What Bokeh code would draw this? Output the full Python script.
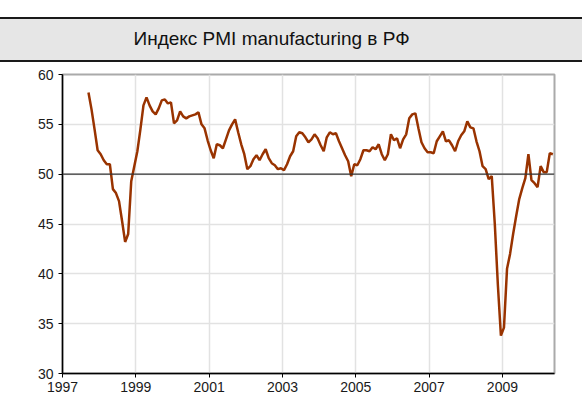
from bokeh.plotting import figure
from bokeh.models import Range1d, Span, FixedTicker, ColumnDataSource
from bokeh.embed import file_html
from bokeh.resources import INLINE

title_text = "Индекс PMI manufacturing в РФ"

# Monthly PMI values (first year starts in September, last year ends in May)
pmi_1997 = [58.2, 56.5, 54.5, 52.4]
pmi_1998 = [52.0, 51.4, 51.0, 51.0, 48.5, 48.1, 47.3, 45.3, 43.2, 44.0, 49.3, 50.8]
pmi_1999 = [52.3, 54.5, 56.9, 57.7, 56.9, 56.3, 56.0, 56.6, 57.4, 57.5, 57.1, 57.2]
pmi_2000 = [55.1, 55.4, 56.3, 55.8, 55.6, 55.8, 55.9, 56.0, 56.2, 55.0, 54.6, 53.4]
pmi_2001 = [52.4, 51.6, 53.0, 52.9, 52.6, 53.5, 54.4, 55.0, 55.5, 54.2, 53.0, 52.0]
pmi_2002 = [50.5, 50.8, 51.5, 51.9, 51.4, 52.0, 52.5, 51.6, 51.1, 50.9, 50.5, 50.6]
pmi_2003 = [50.4, 51.0, 51.8, 52.3, 53.8, 54.2, 54.1, 53.7, 53.2, 53.5, 54.0, 53.6]
pmi_2004 = [52.9, 52.3, 53.7, 54.2, 54.0, 54.1, 53.3, 52.6, 51.9, 51.3, 49.8, 51.0]
pmi_2005 = [50.9, 51.5, 52.4, 52.4, 52.3, 52.7, 52.5, 53.0, 52.0, 51.4, 52.0, 54.0]
pmi_2006 = [53.4, 53.6, 52.6, 53.5, 54.0, 55.6, 56.0, 56.1, 54.6, 53.2, 52.6, 52.2]
pmi_2007 = [52.2, 52.1, 53.3, 53.8, 54.3, 53.3, 53.4, 52.9, 52.3, 53.3, 53.9, 54.3]
pmi_2008 = [55.3, 54.7, 54.6, 53.3, 52.3, 50.8, 50.5, 49.5, 49.8, 45.0, 38.9, 33.8]
pmi_2009 = [34.6, 40.5, 42.0, 44.0, 45.8, 47.5, 48.6, 49.6, 52.0, 49.4, 49.1, 48.7]
pmi_2010 = [50.8, 50.2, 50.2, 52.1, 52.0]

series = [
    (1997, 9, pmi_1997), (1998, 1, pmi_1998), (1999, 1, pmi_1999), (2000, 1, pmi_2000),
    (2001, 1, pmi_2001), (2002, 1, pmi_2002), (2003, 1, pmi_2003), (2004, 1, pmi_2004),
    (2005, 1, pmi_2005), (2006, 1, pmi_2006), (2007, 1, pmi_2007), (2008, 1, pmi_2008),
    (2009, 1, pmi_2009), (2010, 1, pmi_2010),
]

x_ticks = [1997, 1999, 2001, 2003, 2005, 2007, 2009]
x_tick_labels = ["1997", "1999", "2001", "2003", "2005", "2007", "2009"]
y_ticks = [30, 35, 40, 45, 50, 55, 60]
y_tick_labels = ["30", "35", "40", "45", "50", "55", "60"]
reference_level = 50

xs, ys = [], []
for year, first_month, vals in series:
    for k, v in enumerate(vals):
        xs.append(year + (first_month - 1 + k + 0.5) / 12.0)
        ys.append(v)
src = ColumnDataSource(dict(x=xs, y=ys))

FONT = "Liberation Sans"

p = figure(frame_width=492, frame_height=299,
           x_range=Range1d(1997, 2010.42), y_range=Range1d(30, 60),
           toolbar_location=None, output_backend="svg",
           min_border_left=62, min_border_right=28, min_border_top=74, min_border_bottom=35)
p.background_fill_color = "white"
p.border_fill_color = "white"
p.outline_line_color = "#aaaaaa"
p.outline_line_width = 2

# Title band drawn as the title's padded background box
t = p.title
t.text = title_text
t.align = "left"
t.offset = -65
t.standoff = 27
t.text_font = FONT
t.text_font_style = "normal"
t.text_font_size = "19px"
t.text_color = "#111111"
t.background_fill_color = "#e6e6e6"
t.border_line_color = "#1a1a1a"
t.border_line_width = 2
t.padding = dict(left=136, right=175, top=10, bottom=12)

p.xaxis.ticker = FixedTicker(ticks=x_ticks)
p.xaxis.major_label_overrides = dict(zip(x_ticks, x_tick_labels))
p.yaxis.ticker = FixedTicker(ticks=y_ticks)
p.yaxis.major_label_overrides = dict(zip(y_ticks, y_tick_labels))
for ax in (p.xaxis, p.yaxis):
    ax.axis_line_color = "black"
    ax.axis_line_width = 1.5
    ax.major_tick_line_color = "black"
    ax.major_tick_out = 4
    ax.major_tick_in = 0
    ax.minor_tick_line_color = None
    ax.major_label_text_font = FONT
    ax.major_label_text_font_size = "14px"
    ax.major_label_text_color = "#1a1a1a"
p.xaxis.major_label_standoff = 4
p.yaxis.major_label_standoff = 5

p.xgrid.grid_line_color = "#e2e2e2"
p.ygrid.grid_line_color = "#e2e2e2"
p.xgrid.grid_line_width = 1.5
p.ygrid.grid_line_width = 1.5

p.add_layout(Span(location=reference_level, dimension="width",
                  line_color="#333333", line_width=1.3))
p.line("x", "y", source=src, line_color="#993300", line_width=2.5)

open("out.html", "w").write(file_html(p, INLINE))
